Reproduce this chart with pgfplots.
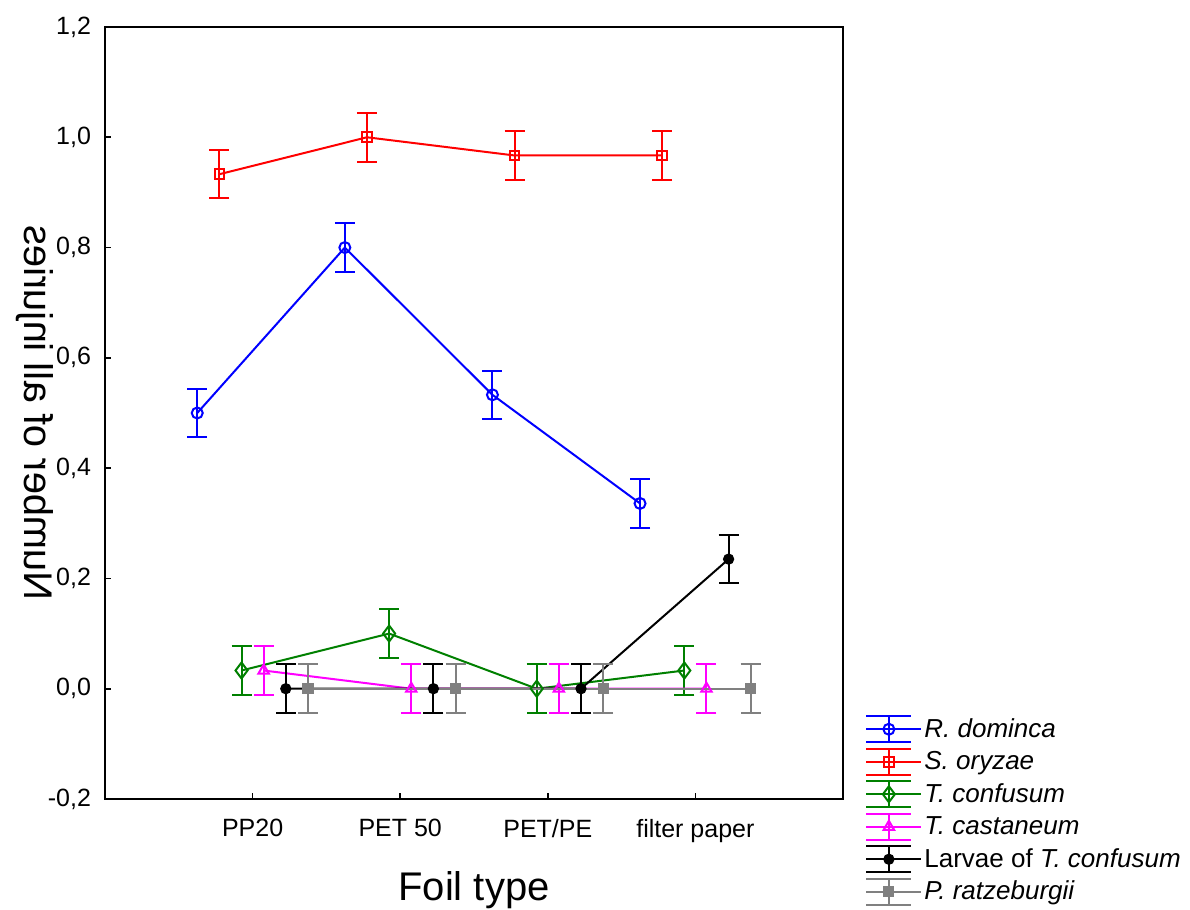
\documentclass[border=0pt]{standalone}
\usepackage{pgfplots}
\pgfplotsset{compat=1.18}
\usepackage{fontspec}
\setmainfont{Liberation Sans}
\usepackage{graphicx}
\definecolor{dgreen}{RGB}{0,128,0}
\definecolor{mgray}{RGB}{128,128,128}
\definecolor{mmag}{RGB}{255,0,255}
\definecolor{mblue}{RGB}{0,0,255}
\definecolor{mred}{RGB}{255,0,0}
\begin{document}
\begin{tikzpicture}
\useasboundingbox (-52.5pt,-55.5pt) rectangle (542.5pt,399.5pt);
\begin{axis}[
  scale only axis, width=369pt, height=386pt,
  xmin=0, xmax=5, ymin=-0.2, ymax=1.2,
  xtick={1,2,3,4}, xticklabels={PP20, PET 50, PET/PE, filter paper},
  ytick={-0.2,0,0.2,0.4,0.6,0.8,1.0,1.2},
  yticklabel style={xshift=-3.5pt, /pgf/number format/.cd, fixed, fixed zerofill, precision=1, use comma, assume math mode=true},
  xticklabel style={yshift=-6.5pt},
  tick align=inside, xtick pos=left, ytick pos=left,
  major tick length=3pt,
  tick style={black, line width=0.8pt},
  axis line style={line width=1.2pt},
  tick label style={font=\fontsize{12.5}{15}\selectfont},
  xlabel={Foil type},
  xlabel style={font=\fontsize{20}{24}\selectfont, at={(axis description cs:0.5,-0.094)}, anchor=north, inner sep=0pt},
  ylabel={\scalebox{1}[-1]{Number of all injuries}},
  ylabel style={font=\fontsize{20}{24}\selectfont, at={(axis description cs:-0.095,0.5)}, anchor=center, rotate=0, inner sep=0pt},
  legend style={draw=none, fill=none, at={(1.0298,0.109)}, anchor=north west, inner sep=0pt, row sep=2.25pt,
     font=\fontsize{13}{15}\selectfont, nodes={inner sep=1pt}},
  legend cell align=left,
  legend image code/.code={
     \draw[#1,mark=none,solid] (0pt,-6.5pt)--(22.5pt,-6.5pt) (0pt,0pt)--(22.5pt,0pt) (0pt,6.5pt)--(22.5pt,6.5pt) (11.25pt,-6.5pt)--(11.25pt,6.5pt);
     \draw[#1,only marks] plot coordinates {(11.25pt,0pt)};
     \path (0pt,0pt) -- (27.5pt,0pt);
  },
  every axis plot/.append style={line width=1pt},
]
\addplot[mblue, mark=o, mark size=2.75pt, mark options={fill=white, solid},
  error bars/.cd, y dir=both, y explicit, error bar style={line width=1pt},
  error mark options={rotate=90, mblue, mark size=5pt, line width=1pt}]
  coordinates {(0.625,0.5) +- (0,0.044) (1.625,0.8) +- (0,0.044) (2.625,0.533) +- (0,0.044) (3.625,0.336) +- (0,0.044)};
\addlegendentry{\textit{R. dominca}}
\addplot[mred, mark=square, mark size=2.4pt, mark options={fill=white, solid},
  error bars/.cd, y dir=both, y explicit, error bar style={line width=1pt},
  error mark options={rotate=90, mred, mark size=5pt, line width=1pt}]
  coordinates {(0.775,0.933) +- (0,0.044) (1.775,1.0) +- (0,0.044) (2.775,0.967) +- (0,0.044) (3.775,0.967) +- (0,0.044)};
\addlegendentry{\textit{S. oryzae}}
\addplot[dgreen, mark=diamond, mark size=4pt, mark options={fill=white, solid},
  error bars/.cd, y dir=both, y explicit, error bar style={line width=1pt},
  error mark options={rotate=90, dgreen, mark size=5pt, line width=1pt}]
  coordinates {(0.925,0.033) +- (0,0.044) (1.925,0.1) +- (0,0.044) (2.925,0.0) +- (0,0.044) (3.925,0.033) +- (0,0.044)};
\addlegendentry{\textit{T. confusum}}
\addplot[mmag, mark=triangle, mark size=3pt, mark options={draw=mmag, fill=white, solid},
  error bars/.cd, y dir=both, y explicit, error bar style={line width=1pt},
  error mark options={rotate=90, mmag, mark size=5pt, line width=1pt}]
  coordinates {(1.075,0.033) +- (0,0.044) (2.075,0.0) +- (0,0.044) (3.075,0.0) +- (0,0.044) (4.075,0.0) +- (0,0.044)};
\addlegendentry{\textit{T. castaneum}}
\addplot[black, mark=*, mark size=2.3pt, mark options={solid},
  error bars/.cd, y dir=both, y explicit, error bar style={line width=1pt},
  error mark options={rotate=90, black, mark size=5pt, line width=1pt}]
  coordinates {(1.225,0.0) +- (0,0.044) (2.225,0.0) +- (0,0.044) (3.225,0.0) +- (0,0.044) (4.225,0.235) +- (0,0.044)};
\addlegendentry{Larvae of \textit{T. confusum}}
\addplot[mgray, mark=square*, mark size=2.3pt, mark options={solid},
  error bars/.cd, y dir=both, y explicit, error bar style={line width=1pt},
  error mark options={rotate=90, mgray, mark size=5pt, line width=1pt}]
  coordinates {(1.375,0.0) +- (0,0.044) (2.375,0.0) +- (0,0.044) (3.375,0.0) +- (0,0.044) (4.375,0.0) +- (0,0.044)};
\addlegendentry{\textit{P. ratzeburgii}}
\end{axis}
\end{tikzpicture}
\end{document}
